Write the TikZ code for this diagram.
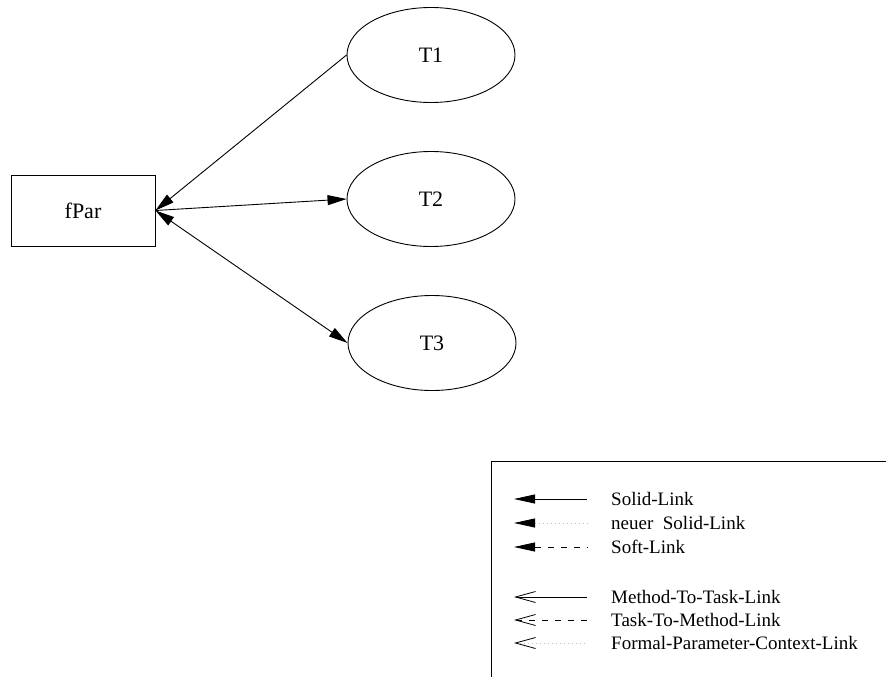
\documentclass[tikz,border=0pt]{standalone}
\usepackage{fontspec}
\setmainfont{Liberation Serif}
\usetikzlibrary{arrows.meta,shapes.geometric}

\tikzset{
  task/.style={draw, ellipse, line width=0.9pt, minimum width=168pt, minimum height=95pt,
    inner sep=0pt, font=\fontsize{22}{26}\selectfont},
  parbox/.style={draw, rectangle, line width=0.9pt, minimum width=144pt, minimum height=71pt,
    inner sep=0pt, font=\fontsize{22}{26}\selectfont},
  link/.style={line width=0.9pt},
  fulltip/.style={-{Triangle[length=19pt,width=10pt]}},
  bothtip/.style={{Triangle[length=19pt,width=10pt]}-{Triangle[length=19pt,width=10pt]}},
  keytext/.style={anchor=west, inner sep=0pt, font=\fontsize{19}{22}\selectfont},
  keyfill/.style={line width=0.8pt, {Triangle[length=21pt,width=9pt,color=black]}-},
  keyopen/.style={line width=0.8pt, {Straight Barb[length=20pt,width=11pt,color=black,line width=0.8pt]}-},
  keydash/.style={dash pattern=on 6pt off 7pt},
  keydot/.style={draw=black!25, dash pattern=on 1pt off 3pt},
}

\begin{document}
\begin{tikzpicture}[x=1pt, y=-1pt]
  \useasboundingbox (0,0) rectangle (886,677);

  % graph nodes
  \node[parbox] (fPar) at (83,210.5) {fPar};
  \node[task] (T1) at (431,55) {T1};
  \node[task] (T2) at (431,199) {T2};
  \node[task] (T3) at (432,343) {T3};

  % edges
  \draw[link, fulltip] (T1.west) -- (fPar.east);
  \draw[link, fulltip] (fPar.east) -- (T2.west);
  \draw[link, bothtip] (fPar.east) -- (T3.west);

  % legend frame (runs past the page edge on the right and bottom)
  \begin{scope}
    \clip (0,0) rectangle (886,677);
    \draw[line width=0.9pt] (491,461) rectangle (900,700);
  \end{scope}

  % legend entries
  \foreach \name/\yy in {ka/499, kb/523, kc/547, kd/597, ke/620, kf/643} {
    \coordinate (\name tip) at (514,\yy);
    \coordinate (\name end) at (587,\yy);
  }
  \draw[keyfill] (katip) -- (kaend);
  \draw[keyfill, keydot] (kbtip) -- (kbend);
  \draw[keyfill, keydash] (kctip) -- (kcend);
  \draw[keyopen] (kdtip) -- (kdend);
  \draw[keyopen, keydash] (ketip) -- (keend);
  \draw[keyopen, keydot] (kftip) -- (kfend);

  \node[keytext] (la) at (611,499) {Solid-Link};
  \node[keytext] (lb) at (611,523) {neuer\ \ Solid-Link};
  \node[keytext] (lc) at (611,547) {Soft-Link};
  \node[keytext] (ld) at (611,597) {Method-To-Task-Link};
  \node[keytext] (le) at (611,620) {Task-To-Method-Link};
  \node[keytext] (lf) at (611,643) {Formal-Parameter-Context-Link};
\end{tikzpicture}
\end{document}
